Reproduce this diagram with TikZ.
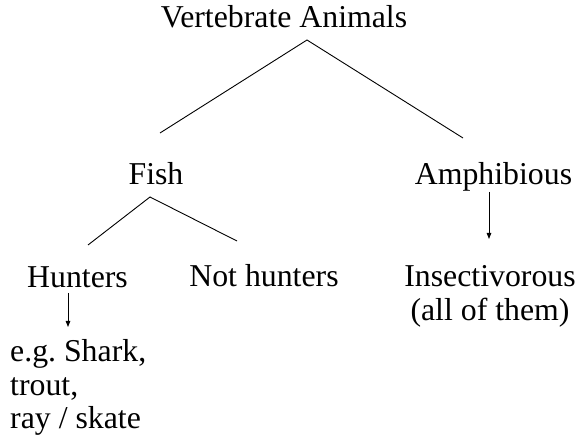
\documentclass[tikz,border=0pt]{standalone}
\usepackage{fontspec}
\setmainfont{Liberation Serif}
\usetikzlibrary{arrows.meta}
\begin{document}
\begin{tikzpicture}[x=1pt,y=-1pt,
  lbl/.style={inner sep=0pt,anchor=base,font=\fontsize{31.8}{33.5}\selectfont},
  branch/.style={line width=0.9pt},
  arrowline/.style={line width=0.9pt,-{Triangle[length=6pt,width=4.5pt]}}]
\useasboundingbox (0,0) rectangle (579,443);
% labels
\node[lbl] (title) at (284,28) {Vertebrate Animals};
\node[lbl] (fish) at (156,185) {Fish};
\node[lbl] (amph) at (493.5,185) {Amphibious};
\node[lbl] (hunters) at (77.5,288) {Hunters};
\node[lbl] (nothunters) at (264,287) {Not hunters};
\node[lbl] (insect) at (490,287) {\begin{tabular}[t]{@{}c@{}}Insectivorous\\(all of them)\end{tabular}};
\node[lbl,anchor=base west] (examples) at (10,362) {\begin{tabular}[t]{@{}l@{}}e.g.\ Shark,\\trout,\\ray / skate\end{tabular}};
% branch points
\coordinate (va-split) at (307,40);
\coordinate (va-left) at (160,133);
\coordinate (va-right) at (463,138);
\coordinate (fish-split) at (150,197);
\coordinate (fish-left) at (88,245);
\coordinate (fish-right) at (237,241);
\coordinate (amph-out) at (489,192);
\coordinate (insect-in) at (489,239);
\coordinate (hunt-out) at (68,293);
\coordinate (hunt-in) at (68,327);
% connectors
\draw[branch] (va-left) -- (va-split) -- (va-right);
\draw[branch] (fish-left) -- (fish-split) -- (fish-right);
\draw[arrowline] (amph-out) -- (insect-in);
\draw[arrowline] (hunt-out) -- (hunt-in);
\end{tikzpicture}
\end{document}
